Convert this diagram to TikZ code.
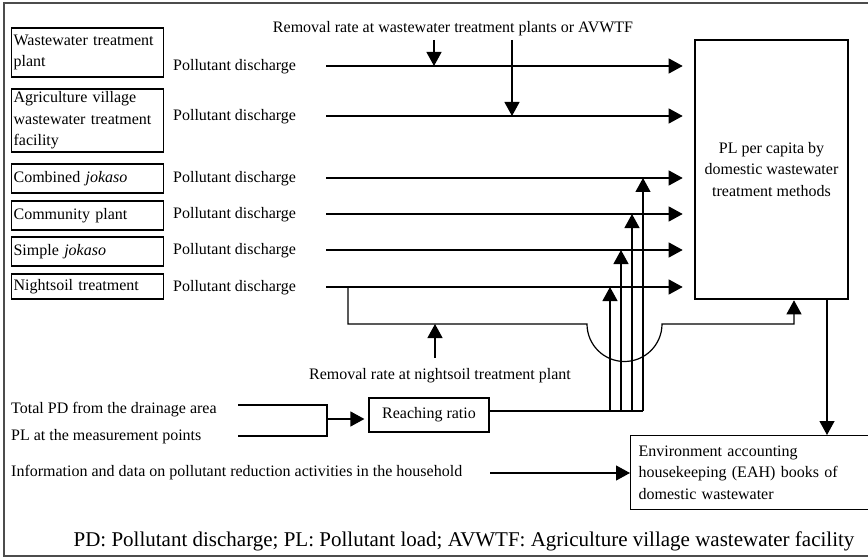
\documentclass[tikz,border=0pt]{standalone}
\usepackage{fontspec}
\setmainfont{Liberation Serif}
\usetikzlibrary{arrows.meta,calc}
\begin{document}
\begin{tikzpicture}[x=1pt,y=-1pt,
  every node/.style={font=\fontsize{16}{21.5}\selectfont, inner sep=0pt},
  ln/.style={line width=1.2pt},
  arr/.style={ln, -{Triangle[length=14pt,width=15pt]}},
  lbox/.style={draw, line width=1.2pt, anchor=west, text width=148pt, inner xsep=2pt, align=left},
  lbl/.style={anchor=west},
  thickbox/.style={draw, line width=2.6pt, minimum width=153pt, minimum height=259pt, align=center},
  rbox/.style={draw, line width=1.2pt}
]
\useasboundingbox (0,0) rectangle (868,559);
\draw[line width=1.3pt, black!70] (4,3) rectangle (880,556);

% left boxes
\node[lbox, minimum height=49pt] (b1) at (11,52.5) {Wastewater treatment\\plant};
\node[lbox, minimum height=63pt] (b2) at (11,120.5) {Agriculture village\\wastewater treatment\\facility};
\node[lbox, minimum height=29pt] (b3) at (11,178.5) {Combined \textit{jokaso}};
\node[lbox, minimum height=29pt] (b4) at (11,215.5) {Community plant};
\node[lbox, minimum height=29pt] (b5) at (11,251.5) {Simple \textit{jokaso}};
\node[lbox, minimum height=25pt] (b6) at (11,286.5) {Nightsoil treatment};

% pollutant discharge labels
\node[lbl] (p1) at (173,67) {Pollutant discharge};
\node[lbl] (p2) at (173,117) {Pollutant discharge};
\node[lbl] (p3) at (173,179) {Pollutant discharge};
\node[lbl] (p4) at (173,215) {Pollutant discharge};
\node[lbl] (p5) at (173,251) {Pollutant discharge};
\node[lbl] (p6) at (173,288) {Pollutant discharge};

% PL box
\node[thickbox] (pl) at (771.5,169.5) {PL per capita by\\domestic wastewater\\treatment methods};

% line start coordinates
\coordinate (s1) at (326,66);
\coordinate (s2) at (326,116);
\coordinate (s3) at (326,178);
\coordinate (s4) at (326,214);
\coordinate (s5) at (326,250);
\coordinate (s6) at (326,287);
\foreach \i in {1,...,6} {
  \draw[arr, shorten >=11pt] (s\i) -- (s\i -| pl.west);
}

% removal rate top
\node (rtop) at (453,29) {Removal rate at wastewater treatment plants or AVWTF};
\coordinate (d1) at (434,40);
\coordinate (d2) at (512,40);
\draw[arr] (d1) -- (d1 |- s1);
\draw[arr] (d2) -- (d2 |- s2);

% nightsoil bypass
\coordinate (n1) at (348,287);
\coordinate (n2) at (348,324);
\coordinate (j1) at (587,324);
\coordinate (j2) at (794,324);
\draw[arr] (n1) -- (n2) -- (j1) arc[start angle=180, end angle=360, radius=37.5pt] -- (j2) -- (j2 |- pl.south);

% removal rate nightsoil
\node (rns) at (440,376) {Removal rate at nightsoil treatment plant};
\coordinate (u1) at (435,358);
\draw[arr] (u1) -- (u1 |- n2);

% total PD / PL at measurement
\node[lbl] (tpd) at (11,410) {Total PD from the drainage area};
\node[lbl] (plm) at (11,437) {PL at the measurement points};
\coordinate (t1) at (238,405);
\coordinate (t2) at (327,405);
\coordinate (t3) at (327,436);
\coordinate (t4) at (238,436);
\draw[ln] (t1) -- (t2) -- (t3) -- (t4);
\node[rbox, minimum width=120pt, minimum height=34pt] (rr) at (429,415) {Reaching ratio};
\coordinate (tm) at (327,419);
\draw[arr, shorten >=4pt] (tm) -- (tm -| rr.west);

% reaching ratio distribution
\coordinate (r0) at (489,411);
\coordinate (v1) at (610,411);
\coordinate (v2) at (621,411);
\coordinate (v3) at (632,411);
\coordinate (v4) at (643,411);
\draw[ln] (r0) -- (v4);
\draw[arr] (v1) -- (v1 |- s6);
\draw[arr] (v2) -- (v2 |- s5);
\draw[arr] (v3) -- (v3 |- s4);
\draw[arr] (v4) -- (v4 |- s3);

% info and EAH
\node[lbl] (info) at (11,473) {Information and data on pollutant reduction activities in the household};
\node[rbox, anchor=north west, minimum width=250pt, minimum height=74pt, text width=234pt, inner xsep=8pt, align=left] (eah) at (630,435) {Environment accounting\\housekeeping (EAH) books of\\domestic wastewater};
\coordinate (i1) at (490,473);
\draw[arr] (i1) -- (i1 -| eah.west);
\coordinate (e1) at (827,299);
\draw[arr] (e1 |- pl.south) -- (e1 |- eah.north);

% footer
\node[font=\fontsize{21}{25}\selectfont] (foot) at (464,541) {PD: Pollutant discharge; PL: Pollutant load; AVWTF: Agriculture village wastewater facility};
\end{tikzpicture}
\end{document}
